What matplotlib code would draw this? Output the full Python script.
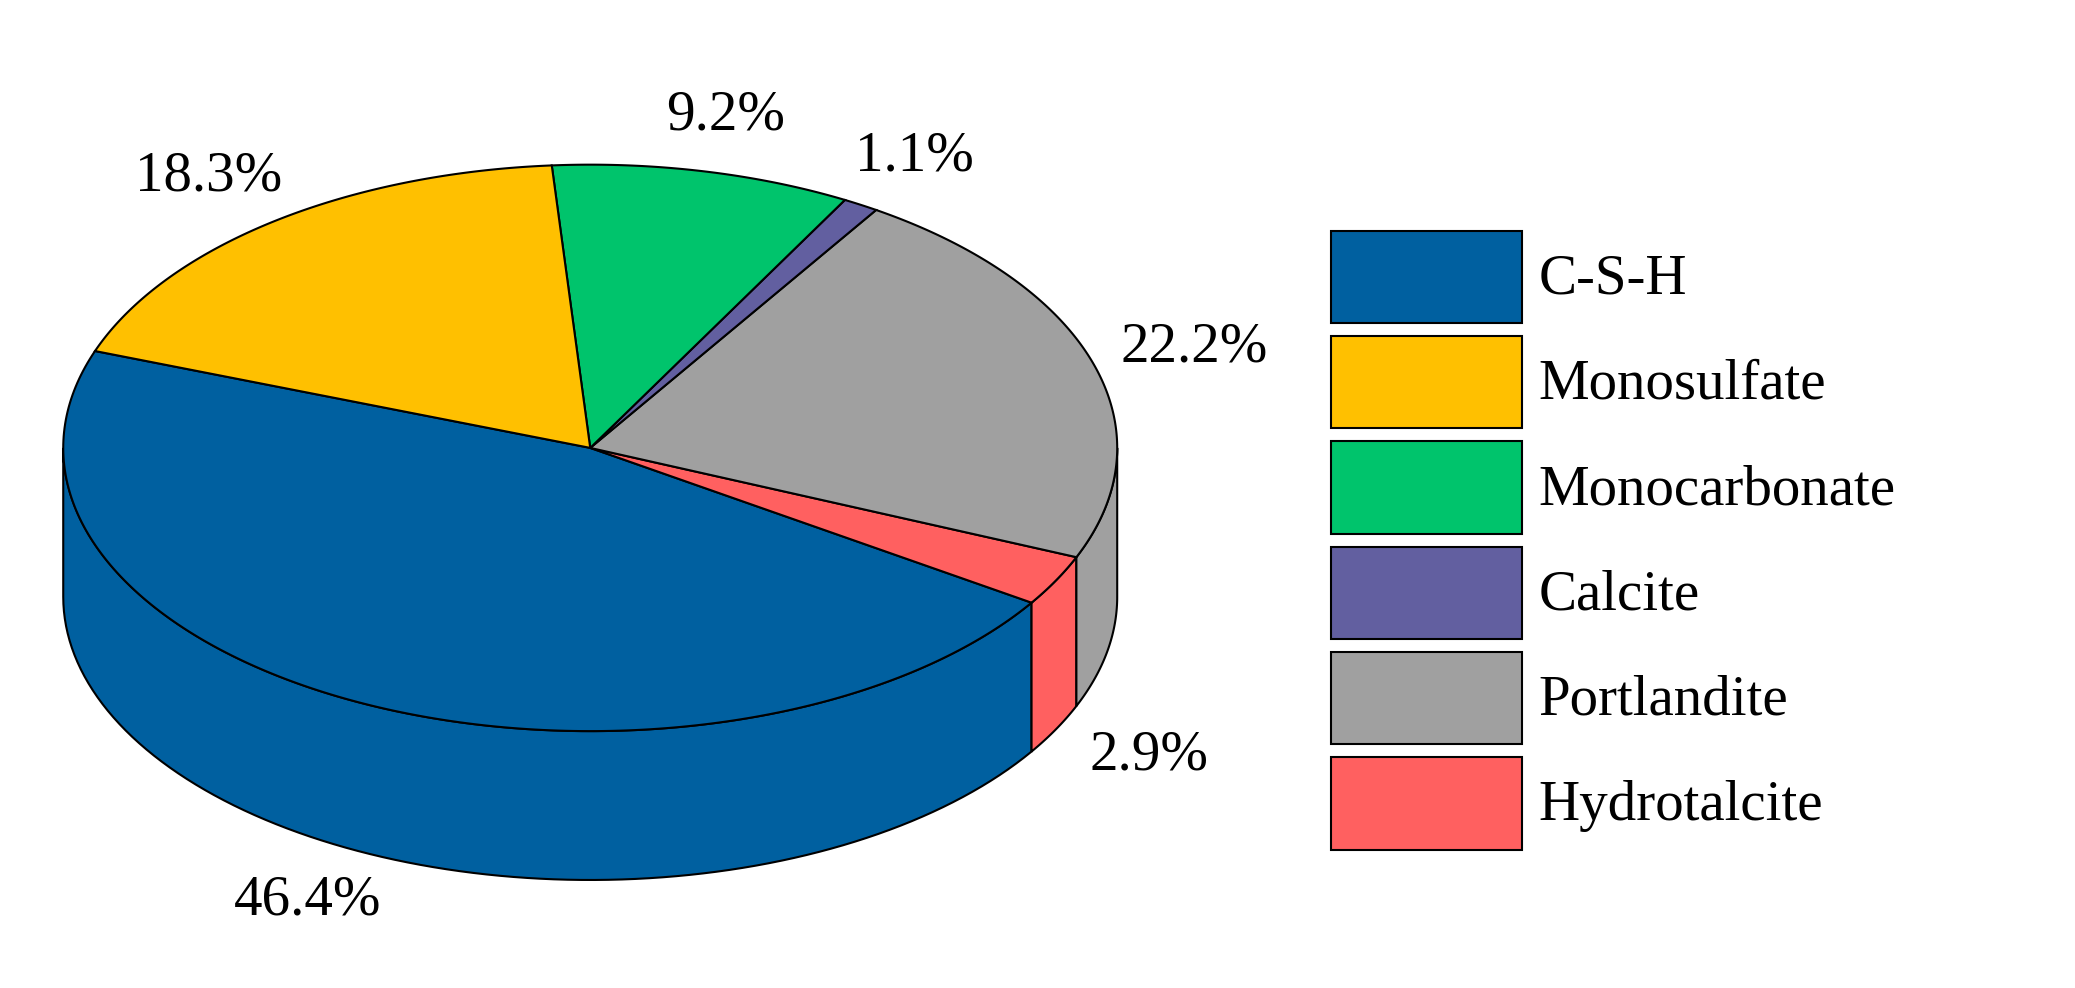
import numpy as np
import matplotlib.pyplot as plt
from matplotlib.patches import Polygon, Rectangle

# Data
labels = ["C-S-H", "Hydrotalcite", "Portlandite", "Calcite", "Monocarbonate", "Monosulfate"]
values = [46.4, 2.9, 22.2, 1.1, 9.2, 18.3]
colors = ["#0060A0", "#FF6060", "#A0A0A0", "#625FA0", "#00C46C", "#FFC000"]
legend_order = ["C-S-H", "Monosulfate", "Monocarbonate", "Calcite", "Portlandite", "Hydrotalcite"]

# Geometry (in a 1575 x 750 layout space)
cx, cy = 448, 340
rx, ry = 400, 215
depth = 113
start = 160.0

fig = plt.figure(figsize=(20.75, 9.88), dpi=100)
ax = fig.add_axes([0, 0, 1, 1])
ax.set_xlim(0, 1575)
ax.set_ylim(750, 0)
ax.axis("off")
plt.rcParams["font.family"] = ["Liberation Serif", "DejaVu Serif"]
fs = 41


def pt(a, dz=0):
    r = np.radians(a)
    return cx + rx * np.cos(r), cy - ry * np.sin(r) + dz


fracs = np.array(values) / sum(values) * 360
a0 = start
for lab, f, c in zip(labels, fracs, colors):
    a1 = a0 + f
    # side wall: visible where angle in [180, 360] (mod 360)
    for base in (0, 360, 720):
        lo, hi = max(a0, base + 180), min(a1, base + 360)
        if hi > lo:
            ang = np.linspace(lo, hi, 100)
            top = [pt(a) for a in ang]
            bot = [pt(a, depth) for a in ang[::-1]]
            ax.add_patch(Polygon(top + bot, closed=True, fc=c, ec="black", lw=1.5, zorder=1))
    # top wedge
    ang = np.linspace(a0, a1, 200)
    ax.add_patch(Polygon([(cx, cy)] + [pt(a) for a in ang], closed=True,
                         fc=c, ec="black", lw=1.5, zorder=2))
    # label
    mid = np.radians((a0 + a1) / 2)
    lx = cx + 1.2 * rx * np.cos(mid)
    ly = cy - 1.2 * ry * np.sin(mid) + (depth if np.sin(mid) < 0 else 0)
    ax.text(lx, ly, f"{values[labels.index(lab)]:.1f}%", fontsize=fs,
            ha="center", va="center", zorder=3)
    a0 = a1

# Legend
for i, name in enumerate(legend_order):
    y = 175 + i * 80
    ax.add_patch(Rectangle((1010, y), 145, 70, fc=colors[labels.index(name)],
                           ec="black", lw=1.5))
    ax.text(1168, y + 37, name, fontsize=fs, va="center", ha="left")

fig.savefig("out.png", dpi=100)
